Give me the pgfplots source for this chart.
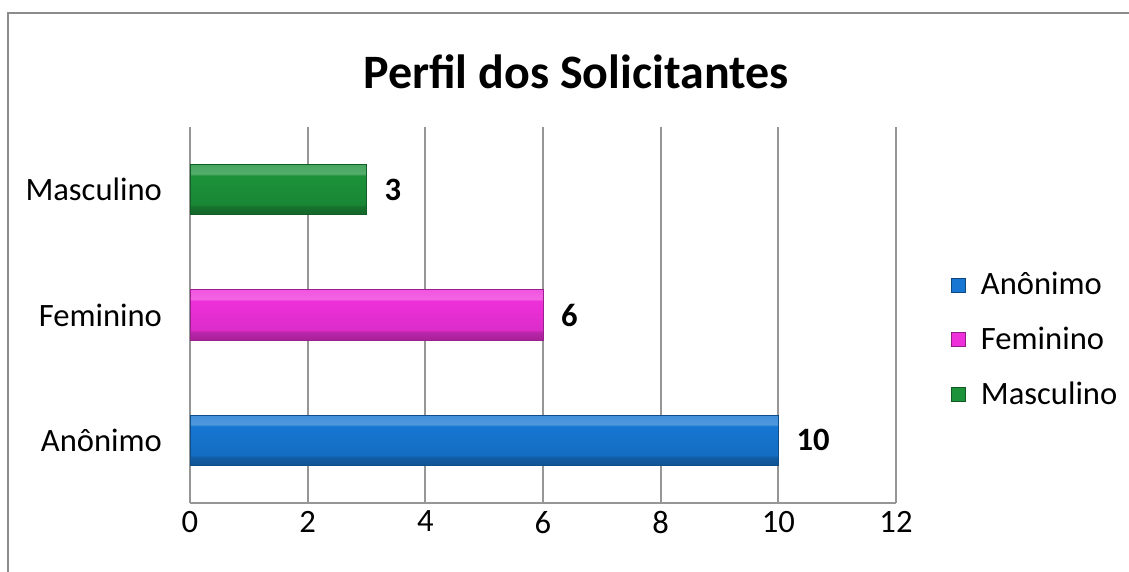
\documentclass[border=0pt]{standalone}
\usepackage{fontspec}
\setmainfont{Carlito}
\usepackage{pgfplots}
\pgfplotsset{compat=1.18}
\definecolor{cblue}{RGB}{22,118,210}
\definecolor{cmag}{RGB}{238,48,218}
\definecolor{cgreen}{RGB}{28,146,58}
\definecolor{gridgray}{RGB}{150,150,150}
\definecolor{framegray}{RGB}{140,140,140}
\newcommand\bevelshading[2]{%
  \pgfdeclareverticalshading{#1}{100bp}{%
    color(0bp)=(#2!70!black);
    color(14bp)=(#2!85!black);
    color(16bp)=(#2!60!black);
    color(33bp)=(#2!78!black);
    color(35bp)=(#2!92!black);
    color(64bp)=(#2);
    color(66bp)=(#2!75!white);
    color(83bp)=(#2!88!white);
    color(85bp)=(#2!80!white);
    color(100bp)=(#2!90!white)}}
\bevelshading{bevblue}{cblue}
\bevelshading{bevmag}{cmag}
\bevelshading{bevgreen}{cgreen}
\tikzset{legsq/.style={fill=#1, draw=#1!60!black, line width=0.4pt}}
\begin{document}
\begin{tikzpicture}
\useasboundingbox (0,0) rectangle (564.5pt,286pt);
\draw[framegray, line width=1pt] (4pt,279.5pt) rectangle (575pt,-10pt);
\node[font=\fontsize{24}{29}\selectfont\bfseries] at (288pt,250pt) {Perfil dos Solicitantes};
\begin{axis}[
  at={(95pt,34.5pt)}, anchor=south west,
  width=353pt, height=188pt, scale only axis,
  xmin=0, xmax=12, ymin=-0.5, ymax=2.5,
  xtick={0,2,...,12},
  ytick={0,1,2},
  yticklabels={Anônimo,Feminino,Masculino},
  /pgf/number format/assume math mode=true,
  axis x line*=bottom, axis y line*=left,
  axis line style={gridgray, line width=1pt, -},
  xmajorgrids,
  grid style={gridgray, line width=1pt},
  major tick length=0pt,
  tick label style={font=\fontsize{16.3}{19}\selectfont},
  yticklabel style={xshift=-10.5pt},
  xticklabel style={yshift=-0.5pt},
  legend style={at={(1.069,0.434)}, anchor=west, draw=none, fill=none,
    font=\fontsize{16.3}{19}\selectfont, row sep=10.5pt,
    legend cell align=left},
  every node near coord/.append style={font=\fontsize{16.3}{19}\selectfont\bfseries, black, xshift=5.5pt},
  clip=false,
]
\addplot[xbar, bar width=0.4, bar shift=0pt, shading=bevblue, draw=cblue!65!black, line width=0.5pt, forget plot, nodes near coords]
  coordinates {(10,0)};
\addplot[xbar, bar width=0.4, bar shift=0pt, shading=bevmag, draw=cmag!65!black, line width=0.5pt, forget plot, nodes near coords]
  coordinates {(6,1)};
\addplot[xbar, bar width=0.4, bar shift=0pt, shading=bevgreen, draw=cgreen!65!black, line width=0.5pt, forget plot, nodes near coords]
  coordinates {(3,2)};
\addlegendimage{legend image code/.code={\draw[legsq=cblue] (0pt,-3.5pt) rectangle (7pt,3.5pt); \path (0pt,0pt) (12.5pt,0pt);}}
\addlegendentry{Anônimo}
\addlegendimage{legend image code/.code={\draw[legsq=cmag] (0pt,-3.5pt) rectangle (7pt,3.5pt); \path (0pt,0pt) (12.5pt,0pt);}}
\addlegendentry{Feminino}
\addlegendimage{legend image code/.code={\draw[legsq=cgreen] (0pt,-3.5pt) rectangle (7pt,3.5pt); \path (0pt,0pt) (12.5pt,0pt);}}
\addlegendentry{Masculino}
\end{axis}
\end{tikzpicture}
\end{document}
